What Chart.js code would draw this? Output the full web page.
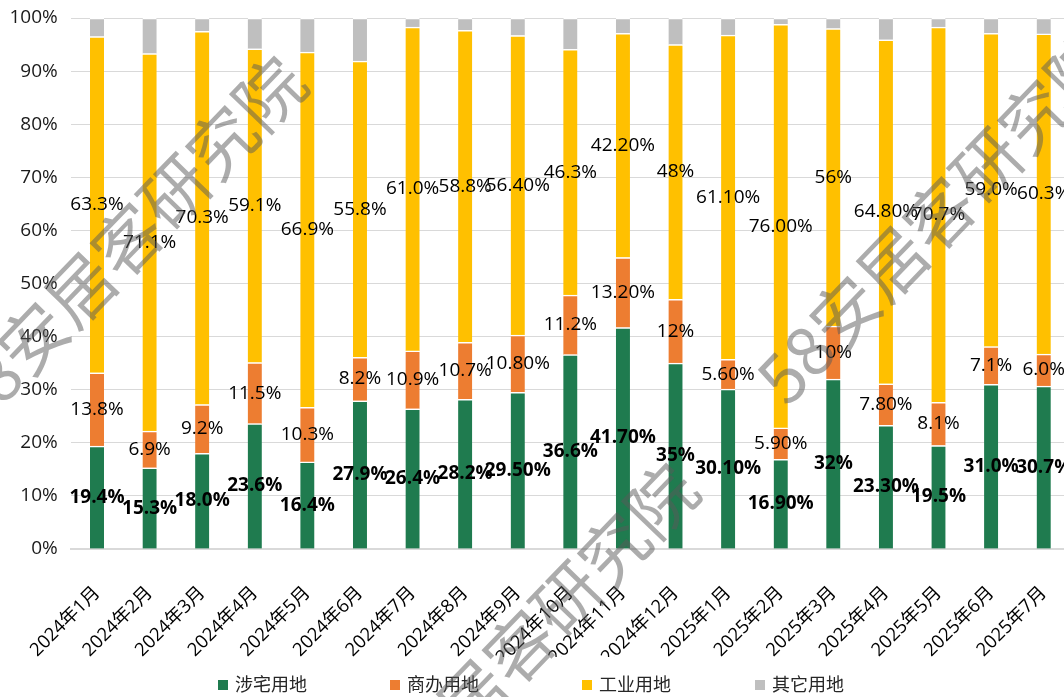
<!DOCTYPE html>
<html>
<head>
<meta charset="utf-8">
<script src="https://cdn.jsdelivr.net/npm/chart.js@4.4.1/dist/chart.umd.min.js"></script>
<style>
    html, body { margin: 0; padding: 0; background: #fff; overflow: hidden; }
    #wrap { width: 1070px; height: 697px; position: relative; }
</style>
</head>
<body>
<div id="wrap"><canvas id="landChart"></canvas></div>
<script>
// Categories
const months = ['2024年1月', '2024年2月', '2024年3月', '2024年4月', '2024年5月', '2024年6月',
    '2024年7月', '2024年8月', '2024年9月', '2024年10月', '2024年11月', '2024年12月',
    '2025年1月', '2025年2月', '2025年3月', '2025年4月', '2025年5月', '2025年6月', '2025年7月'];

// Series values (share of land, %)
const housing = [19.4, 15.3, 18.0, 23.6, 16.4, 27.9, 26.4, 28.2, 29.5, 36.6, 41.7, 35, 30.1, 16.9, 32, 23.3, 19.5, 31.0, 30.7];
const commercial = [13.8, 6.9, 9.2, 11.5, 10.3, 8.2, 10.9, 10.7, 10.8, 11.2, 13.2, 12, 5.6, 5.9, 10, 7.8, 8.1, 7.1, 6.0];
const industrial = [63.3, 71.1, 70.3, 59.1, 66.9, 55.8, 61.0, 58.8, 56.4, 46.3, 42.2, 48, 61.1, 76.0, 56, 64.8, 70.7, 59.0, 60.3];
const other = [3.5, 6.7, 2.5, 5.8, 6.4, 8.1, 1.7, 2.3, 3.3, 5.9, 2.9, 5, 3.2, 1.2, 2, 4.1, 1.7, 2.9, 3.0];

// Data label texts as printed on the chart
const housingLabels = ['19.4%', '15.3%', '18.0%', '23.6%', '16.4%', '27.9%', '26.4%', '28.2%', '29.50%', '36.6%',
    '41.70%', '35%', '30.10%', '16.90%', '32%', '23.30%', '19.5%', '31.0%', '30.7%'];
const commercialLabels = ['13.8%', '6.9%', '9.2%', '11.5%', '10.3%', '8.2%', '10.9%', '10.7%', '10.80%', '11.2%',
    '13.20%', '12%', '5.60%', '5.90%', '10%', '7.80%', '8.1%', '7.1%', '6.0%'];
const industrialLabels = ['63.3%', '71.1%', '70.3%', '59.1%', '66.9%', '55.8%', '61.0%', '58.8%', '56.40%', '46.3%',
    '42.20%', '48%', '61.10%', '76.00%', '56%', '64.80%', '70.7%', '59.0%', '60.3%'];

const seriesNames = ['涉宅用地', '商办用地', '工业用地', '其它用地'];
const yTicks = [0, 10, 20, 30, 40, 50, 60, 70, 80, 90, 100];

const FONT = '"Open Sans", "Noto Sans CJK SC", sans-serif';
Chart.defaults.font.family = FONT;

// Draws the value labels in the middle of each segment, the legend and the watermark
const segmentLabels = {
    id: 'segmentLabels',
    afterDatasetsDraw(chart) {
        const ctx = chart.ctx;
        ctx.save();
        ctx.textAlign = 'center';
        ctx.textBaseline = 'middle';
        ctx.fillStyle = '#000';
        chart.data.datasets.forEach((ds, i) => {
            if (!ds.valueLabels) return;
            ctx.font = (i === 0 ? 'bold ' : '') + '19px ' + FONT;
            chart.getDatasetMeta(i).data.forEach((bar, j) => {
                ctx.fillText(ds.valueLabels[j], bar.x, (bar.y + bar.base) / 2);
            });
        });
        ctx.restore();
    },
    afterDraw(chart) {
        const ctx = chart.ctx;
        // Legend at the bottom
        ctx.save();
        ctx.font = '18px ' + FONT;
        ctx.textBaseline = 'middle';
        ctx.textAlign = 'left';
        const legendX = [218, 390, 582, 755];
        chart.data.datasets.forEach((ds, i) => {
            ctx.fillStyle = ds.backgroundColor;
            ctx.fillRect(legendX[i], 680, 10, 10);
            ctx.fillStyle = '#262626';
            ctx.fillText(ds.label, legendX[i] + 17, 686);
        });
        ctx.restore();

        // Watermark
        drawWatermark(ctx, 33, 338);
        drawWatermark(ctx, 845, 312);
        drawWatermark(ctx, 425, 745);
    }
};

function drawWatermark(ctx, x, y) {
    ctx.save();
    ctx.translate(x, y);
    ctx.rotate(-46 * Math.PI / 180);
    ctx.font = '68px "Noto Sans CJK SC"';
    ctx.textBaseline = 'middle';
    ctx.fillStyle = 'rgba(90, 90, 90, 0.5)';
    ctx.textAlign = 'right';
    ctx.fillText('58', -34, 0);
    ctx.textAlign = 'left';
    ctx.fillText('安居客研究院', -34, 0);
    ctx.restore();
}

const ctx = document.getElementById('landChart').getContext('2d');
new Chart(ctx, {
    type: 'bar',
    data: {
        labels: months,
        datasets: [
            { label: seriesNames[0], data: housing, valueLabels: housingLabels, backgroundColor: '#1F7B4F' },
            { label: seriesNames[1], data: commercial, valueLabels: commercialLabels, backgroundColor: '#ED7D31' },
            { label: seriesNames[2], data: industrial, valueLabels: industrialLabels, backgroundColor: '#FFC000' },
            { label: seriesNames[3], data: other, backgroundColor: '#BFBFBF' }
        ].map(ds => Object.assign(ds, {
            barThickness: 14,
            borderColor: '#fff',
            borderWidth: { top: 1.5, right: 0, bottom: 0, left: 0 },
            borderSkipped: false
        }))
    },
    options: {
        responsive: true,
        maintainAspectRatio: false,
        animation: false,
        layout: { padding: { top: 18, bottom: 40, left: 0, right: 0 } },
        plugins: {
            legend: { display: false },
            tooltip: { enabled: false }
        },
        scales: {
            x: {
                stacked: true,
                grid: { display: false },
                border: { color: '#d9d9d9', width: 2 },
                ticks: {
                    autoSkip: false,
                    minRotation: 45,
                    maxRotation: 45,
                    padding: 25,
                    color: '#000',
                    font: { size: 18.5 }
                },
                afterFit(scale) {
                    scale.height = 108;
                    scale.paddingLeft = 0;
                    scale.paddingRight = 0;
                }
            },
            y: {
                stacked: true,
                min: 0,
                max: 100,
                afterBuildTicks(scale) { scale.ticks = yTicks.map(v => ({ value: v })); },
                grid: { color: '#d9d9d9', lineWidth: 1, drawTicks: false },
                border: { display: false },
                ticks: {
                    padding: 13,
                    color: '#1a1a1a',
                    font: { size: 19 },
                    callback: v => v + '%'
                },
                afterFit(scale) {
                    scale.width = 70.7;
                    scale.paddingTop = 0;
                    scale.paddingBottom = 0;
                }
            }
        }
    },
    plugins: [segmentLabels]
});
</script>
</body>
</html>
